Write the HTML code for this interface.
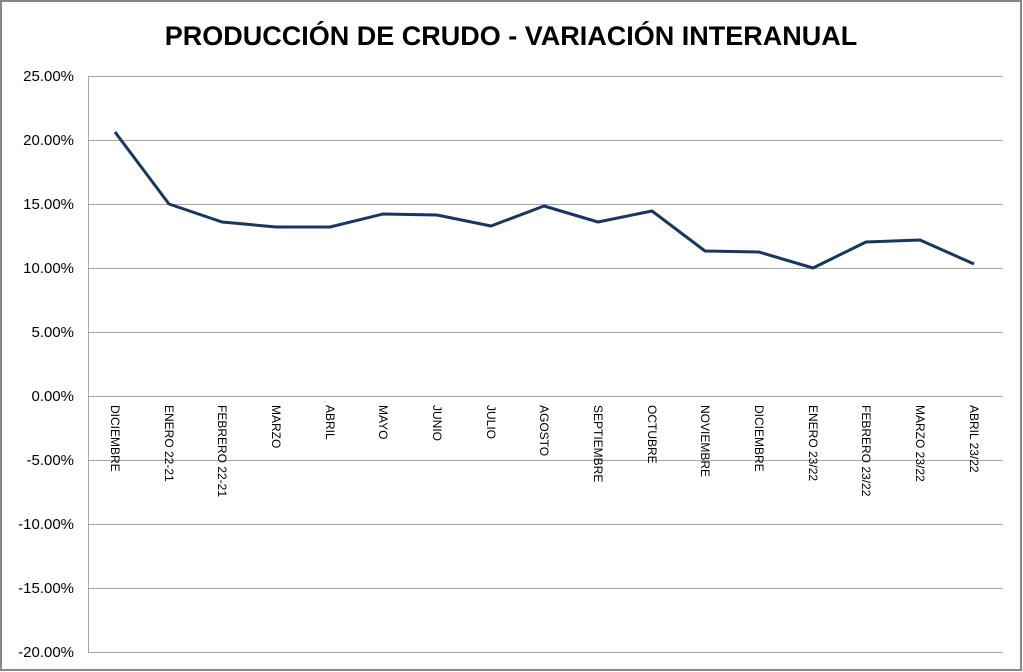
<!DOCTYPE html>
<html><head><meta charset="utf-8"><style>
html,body{margin:0;padding:0;background:#fff;}
svg{display:block;font-family:"Liberation Sans",sans-serif;}
</style></head><body>
<svg width="1023" height="672" xmlns="http://www.w3.org/2000/svg">
<rect x="1" y="1" width="1020" height="669" fill="#fff" stroke="#888" stroke-width="2"/>
<text x="511" y="45" text-anchor="middle" font-size="27" font-weight="bold" fill="#000">PRODUCCIÓN DE CRUDO - VARIACIÓN INTERANUAL</text>
<g stroke="#a6a6a6" stroke-width="1">
<line x1="88" y1="76.5" x2="1003" y2="76.5"/>
<line x1="88" y1="140.5" x2="1003" y2="140.5"/>
<line x1="88" y1="204.5" x2="1003" y2="204.5"/>
<line x1="88" y1="268.5" x2="1003" y2="268.5"/>
<line x1="88" y1="332.5" x2="1003" y2="332.5"/>
<line x1="88" y1="396.5" x2="1003" y2="396.5"/>
<line x1="88" y1="460.5" x2="1003" y2="460.5"/>
<line x1="88" y1="524.5" x2="1003" y2="524.5"/>
<line x1="88" y1="588.5" x2="1003" y2="588.5"/>
<line x1="88" y1="652.5" x2="1003" y2="652.5"/>
<line x1="88.5" y1="76" x2="88.5" y2="652"/>
</g>
<g font-size="15" fill="#000" text-anchor="end">
<text x="74" y="81">25.00%</text>
<text x="74" y="145">20.00%</text>
<text x="74" y="209">15.00%</text>
<text x="74" y="273">10.00%</text>
<text x="74" y="337">5.00%</text>
<text x="74" y="401">0.00%</text>
<text x="74" y="465">-5.00%</text>
<text x="74" y="529">-10.00%</text>
<text x="74" y="593">-15.00%</text>
<text x="74" y="657">-20.00%</text>
</g>
<polyline fill="none" stroke="#17375E" stroke-width="3" stroke-linejoin="round"
points="115,132 169,204 222,222 276,227 330,227 383,214 437,215 491,226 544,206 598,222 652,211 705,251 759,252 813,268 866,242 920,240 974,264"/>
<g font-size="12" fill="#000">
<text transform="translate(111,405) rotate(90)">DICIEMBRE</text>
<text transform="translate(165,405) rotate(90)">ENERO 22-21</text>
<text transform="translate(218,405) rotate(90)">FEBRERO 22-21</text>
<text transform="translate(272,405) rotate(90)">MARZO</text>
<text transform="translate(326,405) rotate(90)">ABRIL</text>
<text transform="translate(379,405) rotate(90)">MAYO</text>
<text transform="translate(433,405) rotate(90)">JUNIO</text>
<text transform="translate(487,405) rotate(90)">JULIO</text>
<text transform="translate(540,405) rotate(90)">AGOSTO</text>
<text transform="translate(594,405) rotate(90)">SEPTIEMBRE</text>
<text transform="translate(648,405) rotate(90)">OCTUBRE</text>
<text transform="translate(701,405) rotate(90)">NOVIEMBRE</text>
<text transform="translate(755,405) rotate(90)">DICIEMBRE</text>
<text transform="translate(809,405) rotate(90)">ENERO 23/22</text>
<text transform="translate(862,405) rotate(90)">FEBRERO 23/22</text>
<text transform="translate(916,405) rotate(90)">MARZO 23/22</text>
<text transform="translate(970,405) rotate(90)">ABRIL 23/22</text>
</g>
</svg>
</body></html>
